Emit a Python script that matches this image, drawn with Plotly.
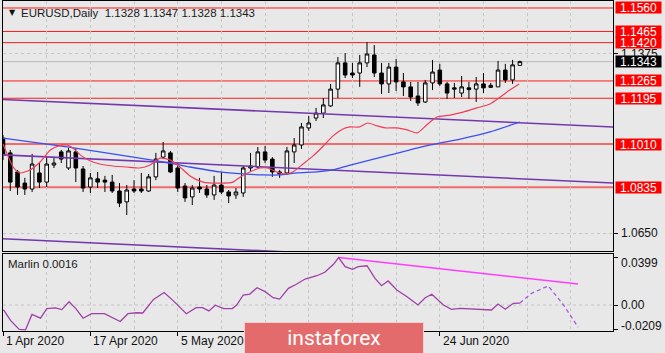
import plotly.graph_objects as go

# ---------------- data ----------------
opens = [1.1034, 1.0974, 1.0897, 1.0852, 1.0828, 1.0893, 1.0856, 1.0925, 1.0978, 1.0913,
         1.0978, 1.0909, 1.0836, 1.0869, 1.0864, 1.0856, 1.0820, 1.0776, 1.0828, 1.0828,
         1.0820, 1.0877, 1.0957, 1.0974, 1.0913, 1.0840, 1.0796, 1.0836, 1.0828, 1.0804,
         1.0844, 1.0816, 1.0804, 1.0812, 1.0913, 1.0917, 1.0978, 1.0949, 1.0897, 1.0893,
         1.0978, 1.1006, 1.1075, 1.1115, 1.1135, 1.1164, 1.1232, 1.1338, 1.1297, 1.1297,
         1.1338, 1.1370, 1.1297, 1.1253, 1.1321, 1.1261, 1.1241, 1.1204, 1.1180, 1.1257,
         1.1309, 1.1253, 1.1237, 1.1216, 1.1237, 1.1232, 1.1253, 1.1239, 1.1241, 1.1309,
         1.1269, 1.1328]
highs = [1.1046, 1.0986, 1.0905, 1.0873, 1.0970, 1.0933, 1.0957, 1.0953, 1.0986, 1.0994,
         1.0990, 1.0921, 1.0893, 1.0897, 1.0881, 1.0885, 1.0852, 1.0844, 1.0864, 1.0893,
         1.0889, 1.0974, 1.1018, 1.0982, 1.0933, 1.0852, 1.0844, 1.0873, 1.0844, 1.0881,
         1.0897, 1.0824, 1.0832, 1.0921, 1.0974, 1.0998, 1.1002, 1.0957, 1.0905, 1.0998,
         1.1034, 1.1095, 1.1123, 1.1156, 1.1196, 1.1253, 1.1362, 1.1378, 1.1338, 1.1370,
         1.1422, 1.1410, 1.1338, 1.1338, 1.1354, 1.1297, 1.1261, 1.1261, 1.1269, 1.1350,
         1.1334, 1.1261, 1.1257, 1.1285, 1.1261, 1.1281, 1.1297, 1.1257, 1.1346, 1.1334,
         1.1350, 1.1347]
lows = [1.0945, 1.0820, 1.0804, 1.0804, 1.0816, 1.0832, 1.0836, 1.0913, 1.0933, 1.0905,
        1.0856, 1.0816, 1.0812, 1.0832, 1.0816, 1.0812, 1.0755, 1.0723, 1.0812, 1.0812,
        1.0816, 1.0864, 1.0949, 1.0893, 1.0816, 1.0776, 1.0763, 1.0812, 1.0792, 1.0784,
        1.0808, 1.0771, 1.0788, 1.0796, 1.0901, 1.0913, 1.0933, 1.0877, 1.0873, 1.0885,
        1.0933, 1.0990, 1.1063, 1.1103, 1.1115, 1.1160, 1.1196, 1.1277, 1.1277, 1.1241,
        1.1321, 1.1281, 1.1212, 1.1216, 1.1224, 1.1204, 1.1184, 1.1164, 1.1176, 1.1228,
        1.1245, 1.1192, 1.1196, 1.1200, 1.1192, 1.1180, 1.1216, 1.1237, 1.1241, 1.1257,
        1.1253, 1.1328]
closes = [1.0966, 1.0856, 1.0836, 1.0828, 1.0929, 1.0856, 1.0929, 1.0933, 1.0949, 1.0982,
          1.0913, 1.0832, 1.0873, 1.0856, 1.0856, 1.0820, 1.0771, 1.0824, 1.0820, 1.0820,
          1.0877, 1.0949, 1.0982, 1.0897, 1.0832, 1.0792, 1.0832, 1.0828, 1.0804, 1.0844,
          1.0816, 1.0800, 1.0816, 1.0913, 1.0921, 1.0978, 1.0945, 1.0897, 1.0889, 1.0982,
          1.1006, 1.1079, 1.1095, 1.1135, 1.1168, 1.1232, 1.1338, 1.1289, 1.1289, 1.1338,
          1.1374, 1.1297, 1.1253, 1.1321, 1.1261, 1.1241, 1.1200, 1.1176, 1.1257, 1.1301,
          1.1253, 1.1216, 1.1232, 1.1241, 1.1230, 1.1253, 1.1237, 1.1247, 1.1309, 1.1269,
          1.1330, 1.1343]

# fast moving average (red), sampled along the line: bar position, price
ma_fast_bar = [0, 1.4, 2.3, 3.7, 5.1, 6.5, 7.6, 8.8, 9.6, 10.6, 12, 13.3, 15.1, 17, 18.8,
               20.2, 21.6, 23, 24.3, 25.7, 27.5, 29.8, 31.6, 32.6, 33.9, 35.3, 36.3, 37.6,
               38.7, 39.8, 41.2, 42.6, 44, 45.3, 46.7, 47.7, 49, 50.1, 51.4, 52.5, 54.1,
               55.5, 56.9, 58.2, 59.6, 61.4, 63.2, 65.1, 66.9, 68.3, 69.6, 70.9]
ma_fast_val = [1.1010, 1.0917, 1.0893, 1.0905, 1.0937, 1.0986, 1.1002, 1.1006, 1.0994, 1.0966,
               1.0941, 1.0929, 1.0921, 1.0917, 1.0913, 1.0925, 1.0953, 1.0945, 1.0917, 1.0881,
               1.0856, 1.0852, 1.0856, 1.0877, 1.0897, 1.0913, 1.0913, 1.0897, 1.0889, 1.0897,
               1.0929, 1.0962, 1.1002, 1.1042, 1.1071, 1.1079, 1.1079, 1.1095, 1.1083, 1.1075,
               1.1075, 1.1067, 1.1055, 1.1087, 1.1119, 1.1127, 1.1139, 1.1156, 1.1172, 1.1200,
               1.1228, 1.1253]

# slow moving average (blue)
ma_slow_bar = [0, 8.8, 17.9, 22.9, 25.7, 29.8, 33, 35.7, 38, 40.4, 43.1, 45.3, 47.7, 53.2,
               58.7, 62.8, 66.9, 71]
ma_slow_val = [1.1034, 1.0998, 1.0957, 1.0933, 1.0917, 1.0897, 1.0889, 1.0885, 1.0885, 1.0893,
               1.0897, 1.0905, 1.0925, 1.0966, 1.1006, 1.1030, 1.1059, 1.1099]

# purple trend lines: (start bar, start price, end bar, end price)
trend_upper = [0, 1.1190, 83.8, 1.1079]
trend_middle = [0, 1.0966, 83.8, 1.0852]
trend_lower = [0, 1.0627, 83.8, 1.0512]

# horizontal levels
levels = [1.1560, 1.1465, 1.1420, 1.1265, 1.1195, 1.1010, 1.0835]
strong_levels = [1.1010, 1.0835]
last_price = 1.1343
price_grid = [1.0650, 1.1375]

# Marlin oscillator
osc_bar = [0.05, 1.06, 2.23, 3.10, 3.98, 5.15, 6.03, 7.2, 8.08, 9.07, 10.01, 11.0, 12.17,
           13.93, 16.1, 17.16, 18.32, 19.2, 20.67, 22.13, 23.3, 25.18, 26.52, 27.4, 28.28,
           29.16, 30.33, 31.5, 32.1, 33.0, 33.9, 34.9, 36.0, 37.1, 38.0, 39.2, 40.3, 41.5,
           43.1, 44.2, 45.4, 46.1, 47.0, 48.0, 48.8, 50.0, 51.1, 52.0, 52.9, 54.1, 55.5,
           57.0, 58.0, 58.9, 60.5, 61.6, 62.8, 64.6, 66.2, 67.1, 68.0, 69.0, 70.1, 71.0]
osc_val = [-0.0039, -0.0131, -0.0205, -0.0209, -0.0079, -0.0111, -0.0030, -0.0024, -0.0039,
           0.0027, -0.0030, -0.0111, -0.0073, -0.0073, -0.0139, -0.0073, -0.0065, -0.0067,
           0.0047, 0.0105, 0.0041, -0.0073, -0.0022, -0.0022, -0.0050, -0.0002, -0.0030,
           -0.0030, 0.0000, 0.0084, 0.0092, 0.0145, 0.0112, 0.0061, 0.0050, 0.0140, 0.0174,
           0.0218, 0.0246, 0.0275, 0.0342, 0.0399, 0.0322, 0.0300, 0.0322, 0.0330, 0.0224,
           0.0162, 0.0202, 0.0126, 0.0070, 0.0000, 0.0061, 0.0090, 0.0000, -0.0036, -0.0028,
           -0.0034, -0.0045, -0.0042, 0.0008, -0.0036, 0.0014, 0.0016]
osc_proj_bar = [71.0, 72.6, 74.9, 77.0, 79.0]
osc_proj_val = [0.0016, 0.0098, 0.0160, 0.0000, -0.0187]
osc_trend = [46.1, 0.0399, 79.0, 0.0176]
osc_ticks = [0.0399, 0.0, -0.0209]
osc_tick_text = ["0.0399", "0.00", "-0.0209"]

# date ticks (labels at 21 May / 8 Jun are hidden under the watermark in the original)
tick_bars = [0, 12, 24, 36, 48, 60]
label_bars = [0, 12, 24, 60]
tick_labels = ["1 Apr 2020", "17 Apr 2020", "5 May 2020", "24 Jun 2020"]

title_text = "EURUSD,Daily  1.1328 1.1347 1.1328 1.1343"
osc_title = "Marlin 0.0016"

# ---------------- layout geometry (pixels) ----------------
W, H = 665, 353
PL, PR = 3, 613
MAIN_T, MAIN_B = 1, 251
SUB_T, SUB_B = 254, 331
BAR0_PX, BAR_PX = 3.0, 7.28


def price_at(ypx):
    return 1.15923 - 0.00040437 * ypx


def osc_at(ypx):
    return (305.0 - ypx) / 1190.0


def py(ypx):
    return 1 - ypx / H


x_range = [(PL - BAR0_PX) / BAR_PX, (PR - BAR0_PX) / BAR_PX]
BG = "#E8E8E8"
FONT = "Liberation Sans"

bars = list(range(len(opens)))
fig = go.Figure()

# purple trend lines
for t in (trend_upper, trend_middle, trend_lower):
    fig.add_trace(go.Scatter(x=[t[0], t[2]], y=[t[1], t[3]], mode="lines",
                             line=dict(color="#7438AE", width=1.6), xaxis="x", yaxis="y",
                             hoverinfo="skip", showlegend=False))

# moving averages
fig.add_trace(go.Scatter(x=ma_slow_bar, y=ma_slow_val, mode="lines",
                         line=dict(color="#3B4FF0", width=1.3, shape="spline", smoothing=0.6),
                         xaxis="x", yaxis="y", showlegend=False))
fig.add_trace(go.Scatter(x=ma_fast_bar, y=ma_fast_val, mode="lines",
                         line=dict(color="#EE3E58", width=1.2, shape="spline", smoothing=0.6),
                         xaxis="x", yaxis="y", showlegend=False))

# candles
fig.add_trace(go.Candlestick(x=bars, open=opens, high=highs, low=lows, close=closes,
                             increasing=dict(line=dict(color="black", width=1), fillcolor="white"),
                             decreasing=dict(line=dict(color="black", width=1), fillcolor="black"),
                             whiskerwidth=0, xaxis="x", yaxis="y", showlegend=False))

# oscillator
fig.add_trace(go.Scatter(x=[osc_trend[0], osc_trend[2]], y=[osc_trend[1], osc_trend[3]],
                         mode="lines", line=dict(color="#FF3CFF", width=1.5),
                         xaxis="x2", yaxis="y2", showlegend=False))
fig.add_trace(go.Scatter(x=osc_bar, y=osc_val, mode="lines",
                         line=dict(color="#A040A8", width=1.3),
                         xaxis="x2", yaxis="y2", showlegend=False))
fig.add_trace(go.Scatter(x=osc_proj_bar, y=osc_proj_val, mode="lines",
                         line=dict(color="#A858E0", width=1.3, dash="4px,3px"),
                         xaxis="x2", yaxis="y2", showlegend=False))

shapes = []
for lvl in levels:
    strong = lvl in strong_levels
    shapes.append(dict(type="line", xref="x domain", yref="y", x0=0, x1=1, y0=lvl, y1=lvl,
                       line=dict(color="#F26A6A" if strong else "#FF1A1A", width=2 if strong else 1),
                       layer="below"))
shapes.append(dict(type="line", xref="x domain", yref="y", x0=0, x1=1, y0=last_price, y1=last_price,
                   line=dict(color="#B8B8B8", width=1), layer="below"))
shapes.append(dict(type="line", xref="x2 domain", yref="y2", x0=0, x1=1, y0=0, y1=0,
                   line=dict(color="#C4C4C4", width=1, dash="3px,3px"), layer="below"))

annotations = []
# title
annotations.append(dict(text="▼", x=7 / W, y=py(12), xref="paper", yref="paper", xanchor="left",
                        yanchor="middle", showarrow=False, font=dict(family="DejaVu Sans", size=8, color="#111")))
annotations.append(dict(text=title_text, x=19 / W, y=py(12.5), xref="paper", yref="paper",
                        xanchor="left", yanchor="middle", showarrow=False,
                        font=dict(family=FONT, size=11.5, color="#1A1A1A")))
annotations.append(dict(text=osc_title, x=6 / W, y=py(264), xref="paper", yref="paper",
                        xanchor="left", yanchor="middle", showarrow=False,
                        font=dict(family=FONT, size=11.5, color="#1A1A1A")))
# price scale labels
for g in price_grid:
    annotations.append(dict(text=f"{g:.4f}", x=619 / W, y=g, xref="paper", yref="y",
                            xanchor="left", yanchor="middle", showarrow=False,
                            font=dict(family=FONT, size=12, color="#111")))
for lvl in levels:
    annotations.append(dict(text=f"{lvl:.4f}", x=615 / W, y=lvl, xref="paper", yref="y",
                            xanchor="left", yanchor="middle", showarrow=False, bgcolor="#FF0000",
                            width=45, height=11, borderpad=0, align="center",
                            font=dict(family=FONT, size=12, color="white")))
annotations.append(dict(text=f"{last_price:.4f}", x=615 / W, y=last_price, xref="paper", yref="y",
                        xanchor="left", yanchor="middle", showarrow=False, bgcolor="#000000",
                        width=45, height=11, borderpad=0, align="center",
                        font=dict(family=FONT, size=12, color="white")))
# oscillator scale labels
osc_label_shift = [-5, 0, 4]
for v, t, s in zip(osc_ticks, osc_tick_text, osc_label_shift):
    annotations.append(dict(text=t, x=619 / W, y=v, xref="paper", yref="y2", yshift=s,
                            xanchor="left", yanchor="middle", showarrow=False,
                            font=dict(family=FONT, size=12, color="#111")))
# date labels
for b, t in zip(label_bars, tick_labels):
    annotations.append(dict(text=t, x=b, y=py(341), xref="x2", yref="paper", xshift=1,
                            xanchor="left", yanchor="middle", showarrow=False,
                            font=dict(family=FONT, size=12, color="#111")))
# watermark
annotations.append(dict(text="instaforex", x=334 / W, y=py(337.5), xref="paper", yref="paper",
                        xanchor="center", yanchor="middle", showarrow=False,
                        bgcolor="#E46B6B", bordercolor="#F3CFCF", borderwidth=1,
                        width=178, height=30, borderpad=0, align="center",
                        font=dict(family="Roboto", size=21, color="white")))

grid_common = dict(showgrid=True, gridcolor="#C6C6C6", griddash="3px,3px", gridwidth=1,
                   showline=True, mirror=True, linecolor="#000", linewidth=1, zeroline=False)

fig.update_layout(
    width=W, height=H, margin=dict(l=0, r=0, t=0, b=0),
    paper_bgcolor=BG, plot_bgcolor=BG, showlegend=False, boxgap=0.3,
    xaxis=dict(domain=[PL / W, PR / W], range=x_range, anchor="y", showticklabels=False,
               tickmode="linear", tick0=0, dtick=6, ticks="", rangeslider=dict(visible=False),
               **grid_common),
    yaxis=dict(domain=[py(MAIN_B), py(MAIN_T)], range=[price_at(MAIN_B), price_at(MAIN_T)],
               anchor="x", side="right", tickmode="array", tickvals=price_grid,
               showticklabels=False, ticks="outside", ticklen=4, tickcolor="#000", **grid_common),
    xaxis2=dict(domain=[PL / W, PR / W], range=x_range, anchor="y2", matches="x",
                tickmode="array", tickvals=tick_bars, showticklabels=False, ticks="outside",
                ticklen=4, tickcolor="#000",
                minor=dict(tickmode="linear", tick0=0, dtick=6, showgrid=True,
                           gridcolor="#C6C6C6", griddash="3px,3px", ticks=""),
                **grid_common),
    yaxis2=dict(domain=[py(SUB_B), py(SUB_T)], range=[osc_at(SUB_B), osc_at(SUB_T)],
                anchor="x2", side="right", tickmode="array", tickvals=osc_ticks,
                showticklabels=False, ticks="outside", ticklen=4, tickcolor="#000",
                showline=True, mirror=True, linecolor="#000", linewidth=1, zeroline=False,
                showgrid=False),
    shapes=shapes, annotations=annotations,
)

fig.write_html("out.html")
